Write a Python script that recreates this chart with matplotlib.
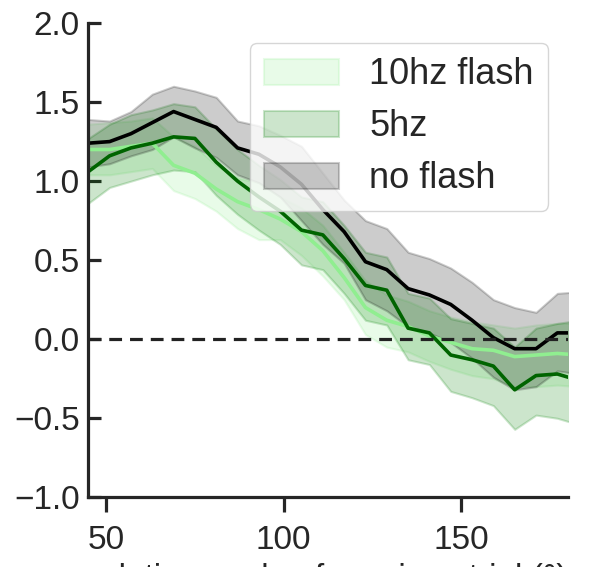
import matplotlib
matplotlib.use('Agg')
import matplotlib.pyplot as plt
import seaborn as sns

# relative angle bins (deg)
angles = [45, 51, 57, 63, 69, 75, 81, 87, 93, 99, 105, 111,
          117, 123, 129, 135, 141, 147, 153, 159, 165, 171, 177, 183]

# 10hz flash
hz10_mean = [1.20, 1.20, 1.22, 1.24, 1.10, 1.05, 0.95, 0.87, 0.82, 0.76, 0.68, 0.56,
             0.39, 0.20, 0.12, 0.08, 0.02, -0.02, -0.06, -0.07, -0.11, -0.10, -0.09, -0.10]
hz10_hi = [1.36, 1.37, 1.38, 1.40, 1.28, 1.22, 1.10, 1.02, 0.99, 0.90, 0.83, 0.72,
           0.55, 0.37, 0.28, 0.24, 0.18, 0.14, 0.11, 0.09, 0.07, 0.09, 0.10, 0.10]
hz10_lo = [1.04, 1.04, 1.06, 1.08, 0.94, 0.89, 0.81, 0.70, 0.63, 0.63, 0.53, 0.40,
           0.25, 0.03, -0.05, -0.08, -0.14, -0.19, -0.23, -0.25, -0.30, -0.30, -0.29, -0.30]

# 5hz flash
hz5_mean = [1.06, 1.16, 1.21, 1.24, 1.28, 1.27, 1.12, 1.00, 0.90, 0.81, 0.69, 0.66,
            0.51, 0.34, 0.31, 0.07, 0.04, -0.10, -0.13, -0.17, -0.32, -0.23, -0.22, -0.26]
hz5_hi = [1.27, 1.36, 1.42, 1.45, 1.49, 1.47, 1.33, 1.20, 1.10, 1.01, 0.90, 0.87,
          0.72, 0.55, 0.52, 0.29, 0.26, 0.13, 0.10, 0.07, -0.05, 0.07, 0.10, 0.12]
hz5_lo = [0.86, 0.96, 1.00, 1.04, 1.07, 1.06, 0.91, 0.79, 0.69, 0.60, 0.47, 0.44,
          0.29, 0.12, 0.09, -0.13, -0.16, -0.33, -0.37, -0.42, -0.57, -0.48, -0.50, -0.54]

# no flash
nf_mean = [1.24, 1.25, 1.30, 1.37, 1.44, 1.39, 1.34, 1.21, 1.17, 1.09, 0.98, 0.82,
           0.68, 0.49, 0.44, 0.32, 0.28, 0.22, 0.12, 0.01, -0.06, -0.06, 0.04, 0.04]
nf_hi = [1.39, 1.38, 1.44, 1.55, 1.60, 1.57, 1.53, 1.38, 1.35, 1.29, 1.22, 1.05,
         0.88, 0.75, 0.70, 0.55, 0.51, 0.45, 0.36, 0.25, 0.20, 0.17, 0.29, 0.30]
nf_lo = [1.09, 1.11, 1.16, 1.20, 1.28, 1.21, 1.15, 1.04, 0.99, 0.90, 0.75, 0.60,
         0.48, 0.25, 0.18, 0.08, 0.04, -0.02, -0.12, -0.24, -0.32, -0.30, -0.20, -0.22]

sns.set_style('ticks')
plt.rcParams['font.family'] = ['Liberation Sans', 'DejaVu Sans']
plt.rcParams['font.size'] = 24

fig = plt.figure(figsize=(6.12, 5.67), dpi=100)
ax = fig.add_axes([0.1443, 0.1229, 0.9281 - 0.1443, 0.9594 - 0.1229])

ax.fill_between(angles, hz10_lo, hz10_hi, color='lightgreen', alpha=0.2,
                linewidth=1.5, label='10hz flash')
ax.plot(angles, hz10_mean, color='lightgreen', lw=2.6)

ax.fill_between(angles, hz5_lo, hz5_hi, color='green', alpha=0.2,
                linewidth=1.5, label='5hz')
ax.plot(angles, hz5_mean, color='darkgreen', lw=2.6)

ax.fill_between(angles, nf_lo, nf_hi, color='black', alpha=0.2,
                linewidth=1.5, label='no flash')
ax.plot(angles, nf_mean, color='black', lw=2.6)

ax.axhline(0, color='#222222', ls='--', lw=2.3, dashes=(4, 2.5))

ax.set_xlim(45, 180)
ax.set_ylim(-1, 2)
ax.set_xticks([50, 100, 150])
ax.set_yticks([-1.0, -0.5, 0.0, 0.5, 1.0, 1.5, 2.0])
ax.set_yticklabels(['\u22121.0', '\u22120.5', '0.0', '0.5', '1.0', '1.5', '2.0'])
ax.set_xlabel('relative angle of previous trial (\u00b0)', labelpad=5)

for s in ['left', 'bottom']:
    ax.spines[s].set_linewidth(2.3)
    ax.spines[s].set_color('#262626')
sns.despine(ax=ax)
ax.tick_params(width=2.3, colors='#262626', labelsize=24)
ax.tick_params(axis='x', direction='out', length=11, pad=9)
ax.tick_params(axis='y', direction='in', length=9.5, pad=6)

ax.legend(loc='upper right', fontsize=26, framealpha=0.8,
          handlelength=2.08, handleheight=0.72, handletextpad=0.83,
          labelspacing=0.47, borderpad=0.4, borderaxespad=0.55)

fig.savefig('out.png', dpi=100)
